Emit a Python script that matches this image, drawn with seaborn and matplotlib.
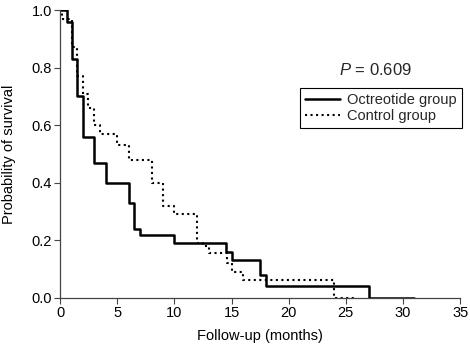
import matplotlib
matplotlib.use("Agg")
import numpy as np
import pandas as pd
import matplotlib.pyplot as plt
import seaborn as sns

# Kaplan-Meier steps (time in months, survival probability)
oct_time = [0, 0.6, 1.0, 1.5, 2.0, 3.0, 4.0, 6.0, 6.5, 7.0, 10.0, 14.5, 15.0, 17.5, 18.0, 27.0, 31.0]
oct_surv = [1.0, 0.96, 0.83, 0.70, 0.56, 0.47, 0.40, 0.33, 0.24, 0.22, 0.19, 0.16, 0.13, 0.08, 0.04, 0.0, 0.0]

ctrl_time = [0, 0.2, 1.0, 1.45, 1.5, 2.0, 2.45, 3.0, 3.45, 5.0, 6.0, 8.0, 9.0, 10.0,
             12.0, 12.5, 13.0, 14.6, 15.0, 16.0, 24.0, 26.0]
ctrl_surv = [1.0, 0.97, 0.87, 0.83, 0.77, 0.71, 0.66, 0.60, 0.57, 0.53, 0.48, 0.40, 0.32, 0.29,
             0.19, 0.18, 0.155, 0.12, 0.09, 0.063, 0.0, 0.0]

groups = ["Octreotide group", "Control group"]
p_text = "$P$ = 0.609"


def main():
    sns.set_theme(style="ticks")
    plt.rcParams["font.family"] = ["Liberation Sans", "DejaVu Sans"]
    plt.rcParams["mathtext.fontset"] = "custom"
    plt.rcParams["mathtext.it"] = "Liberation Sans:italic"
    plt.rcParams["mathtext.rm"] = "Liberation Sans"

    oct_df = pd.DataFrame({"time": oct_time, "surv": oct_surv})
    ctrl_df = pd.DataFrame({"time": ctrl_time, "surv": ctrl_surv})

    fig = plt.figure(figsize=(4.7, 3.46), dpi=100)
    ax = fig.add_axes([0.128, 0.139, 0.851, 0.832])

    sns.lineplot(data=oct_df, x="time", y="surv", ax=ax, color="black", lw=1.8,
                 drawstyle="steps-post", estimator=None, sort=False, label=groups[0])
    sns.lineplot(data=ctrl_df, x="time", y="surv", ax=ax, color="black", lw=1.5,
                 linestyle=":", drawstyle="steps-post", estimator=None, sort=False,
                 label=groups[1])

    ax.set_xlim(0, 35)
    ax.set_ylim(0, 1.0)
    ax.set_xticks(np.arange(0, 36, 5))
    ax.set_yticks(np.arange(0, 1.01, 0.2))
    ax.set_yticklabels([f"{v:.1f}" for v in np.arange(0, 1.01, 0.2)])
    ax.tick_params(labelsize=10.5, length=4, width=0.8, pad=2, color="#444444", labelcolor="black")
    for s in ["left", "bottom"]:
        ax.spines[s].set_color("#444444")
        ax.spines[s].set_linewidth(0.9)
    sns.despine(ax=ax)

    ax.set_xlabel("Follow-up (months)", fontsize=10.5, color="black", labelpad=6)
    ax.set_ylabel("Probability of survival", fontsize=10.5, color="black", labelpad=11)

    ax.text(24.4, 0.79, p_text, fontsize=12, va="center", ha="left")

    leg = ax.legend(loc="upper right", bbox_to_anchor=(1.005, 0.73), borderaxespad=0,
                    fontsize=10.5, frameon=True, fancybox=False, framealpha=1,
                    edgecolor="black", handlelength=2.4, handletextpad=0.5,
                    borderpad=0.35, labelspacing=0.15)
    leg.get_frame().set_linewidth(0.8)

    fig.savefig("out.png", dpi=100)
    plt.close(fig)


if __name__ == "__main__":
    main()
